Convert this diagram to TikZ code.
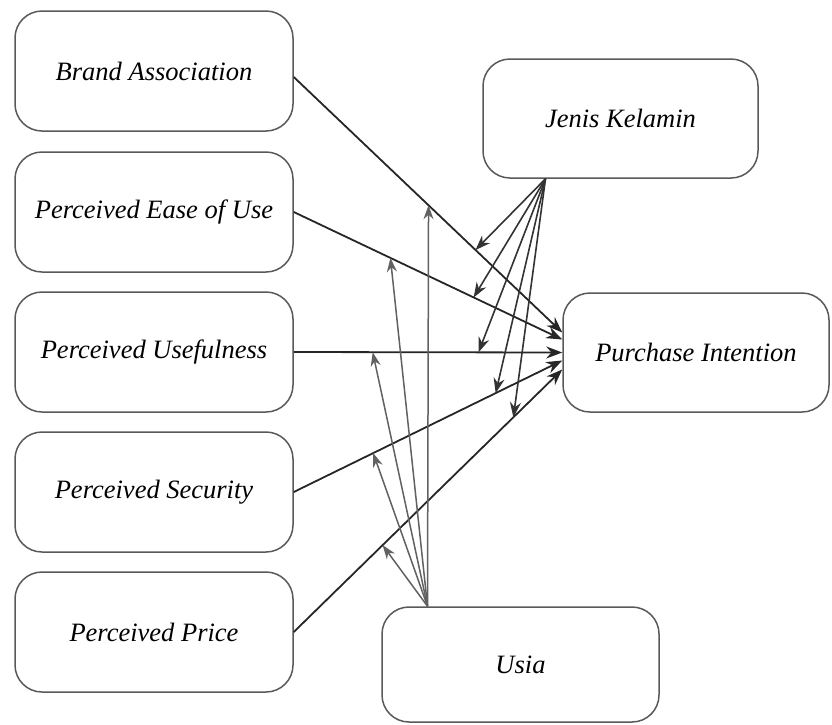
\documentclass[tikz,border=0pt]{standalone}
\usepackage{fontspec}
\setmainfont{Liberation Serif}
\usetikzlibrary{arrows.meta,positioning}
\begin{document}
\begin{tikzpicture}[x=1pt, y=-1pt,
  var/.style={rectangle, rounded corners=27pt, draw=black!65, line width=1.5pt,
              fill=white, minimum width=278pt, minimum height=120pt, inner sep=0pt,
              font=\fontsize{26.5}{31}\selectfont\itshape},
  effect/.style={line width=1.8pt, black!85, -{Stealth[length=16pt, width=12pt]}},
  modjk/.style={line width=1.6pt, black!80, -{Stealth[length=15pt, width=11pt]}},
  modus/.style={line width=1.5pt, black!62, -{Stealth[length=14pt, width=10pt]}}
]
  \useasboundingbox (0,0) rectangle (832,724);
  % variables
  \node[var] (ba)   at (154, 71)  {Brand Association};
  \node[var] (peou) at (154, 212) {Perceived Ease of Use};
  \node[var] (pu)   at (154, 352) {Perceived Usefulness};
  \node[var] (ps)   at (154, 492) {Perceived Security};
  \node[var] (pp)   at (154, 632) {Perceived Price};
  \node[var, minimum width=275pt, minimum height=119pt] (jk) at (620.5, 118.5) {Jenis Kelamin};
  \node[var, minimum width=266pt, minimum height=119pt] (pi) at (696, 352.5) {Purchase Intention};
  \node[var, minimum width=277pt, minimum height=115pt] (us) at (520.5, 664.5) {Usia};
  \coordinate (jkout) at ([xshift=-75pt]jk.south);
  \coordinate (usout) at ([xshift=-93pt]us.north);
  % direct effects
  \draw[effect] ([yshift=-6pt]ba.east) -- coordinate[pos=0.502] (ba-us)
    coordinate[pos=0.677] (ba-jk) ([yshift=20pt]pi.west);
  \draw[effect] (peou.east) -- coordinate[pos=0.36] (peou-us)
    coordinate[pos=0.67] (peou-jk) ([yshift=13pt]pi.west);
  \draw[effect] (pu.east) -- coordinate[pos=0.294] (pu-us)
    coordinate[pos=0.688] (pu-jk) ([yshift=0pt]pi.west);
  \draw[effect] (ps.east) -- coordinate[pos=0.296] (ps-us)
    coordinate[pos=0.752] (ps-jk) ([yshift=-8pt]pi.west);
  \draw[effect] (pp.east) -- coordinate[pos=0.331] (pp-us)
    coordinate[pos=0.818] (pp-jk) ([yshift=-17pt]pi.west);
  % moderation
  \foreach \v in {ba,peou,pu,ps,pp} {
    \draw[modjk] (jkout) -- (\v-jk);
    \draw[modus] (usout) -- (\v-us);
  }
\end{tikzpicture}
\end{document}
